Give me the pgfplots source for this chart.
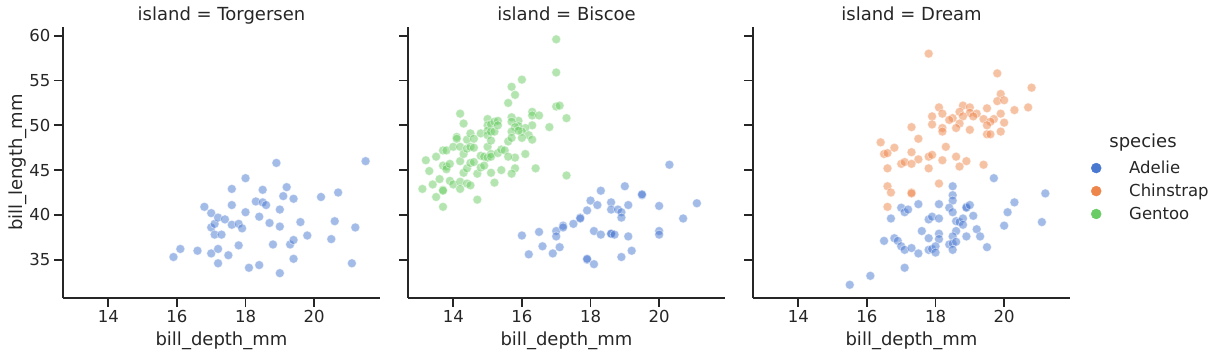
\documentclass[border=0pt]{standalone}
\usepackage{pgfplots}
\pgfplotsset{compat=1.18}
\usepackage{fontspec}
\setmainfont{DejaVu Sans}
\definecolor{cA}{HTML}{4878D0}
\definecolor{cC}{HTML}{EE854A}
\definecolor{cG}{HTML}{6ACC64}
\definecolor{tg}{HTML}{262626}
\pgfplotsset{
  facet/.style={
    scale only axis, width=317pt, height=271pt,
    xmin=12.68, xmax=21.92, ymin=30.725, ymax=60.975,
    axis lines=left, axis line style={-, line width=1.875pt, tg},
    tick align=outside, major tick length=9pt,
    tick style={line width=1.875pt, tg},
    xtick={14,16,18,20}, ytick={35,40,45,50,55,60},
    /pgf/number format/assume math mode=true,
    tick label style={font=\fontsize{16.5}{19.8}\selectfont, text=tg},
    xlabel={bill\_depth\_mm},
    label style={font=\fontsize{18}{21.6}\selectfont, text=tg},
    xlabel style={at={(axis description cs:0.5,0)}, anchor=base, yshift=-47pt},
    title style={at={(axis description cs:0.5,1)}, anchor=base, yshift=0pt, font=\fontsize{18}{21.6}\selectfont, text=tg},
    clip=false,
  },
  pts/.style={only marks, mark=*, mark size=4.5pt, forget plot,
    mark options={fill=#1, draw=white, line width=0.72pt, opacity=0.5}},
}
\begin{document}
\begin{tikzpicture}
\useasboundingbox (0pt,0pt) rectangle (1221pt,356pt);
% ---------------- Torgersen
\begin{axis}[facet, at={(63pt,58pt)}, anchor=south west,
  title={island = Torgersen},
  ylabel={bill\_length\_mm},
  ylabel style={at={(axis description cs:0,0.5)}, anchor=base, yshift=41pt}]
\addplot[pts=cA] table {
15.9 35.3
16.1 36.2
16.6 36.0
16.8 40.9
17.0 40.2
17.0 38.6
17.1 39.0
17.2 39.7
17.1 37.8
17.3 37.8
17.0 35.7
17.2 36.2
17.2 34.6
17.4 39.5
17.5 35.5
17.6 42.9
17.6 41.1
17.6 38.9
17.8 39.0
17.8 36.6
17.9 38.5
18.0 44.1
18.0 40.3
18.1 34.1
18.3 41.5
18.4 39.8
18.4 34.4
18.5 42.8
18.5 41.4
18.6 41.1
18.7 39.1
18.8 36.7
18.9 45.8
19.0 40.6
19.0 38.7
19.0 33.5
19.1 42.1
19.2 43.1
19.3 36.7
19.4 41.8
19.4 37.2
19.4 35.1
19.6 39.2
19.8 37.7
20.2 42.0
20.5 37.3
20.6 39.3
20.7 42.5
21.1 34.6
21.2 38.6
21.5 46.0
};
\end{axis}
% ---------------- Biscoe
\begin{axis}[facet, at={(408pt,58pt)}, anchor=south west,
  title={island = Biscoe}, yticklabels={}]
\addplot[pts=cA] table {
16.0 37.7
16.2 35.6
16.5 38.1
16.6 36.5
16.9 35.7
17.0 38.2
17.0 37.6
17.1 36.4
17.2 38.8
17.2 38.6
17.5 39.0
17.7 39.7
17.7 39.6
17.9 40.5
17.9 35.0
17.9 35.1
18.0 41.6
18.1 38.2
18.1 34.5
18.2 41.1
18.3 37.8
18.3 42.7
18.6 41.4
18.6 40.6
18.6 37.9
18.6 37.9
18.7 37.8
18.8 40.6
18.9 40.3
18.9 39.7
18.9 35.3
19.0 43.2
19.1 41.1
19.1 37.6
19.2 36.0
19.5 42.2
19.5 42.3
20.0 41.0
20.0 38.2
20.0 37.8
20.3 45.6
20.7 39.6
21.1 41.3
};
\addplot[pts=cG] table {
17.0 59.6
17.0 55.9
16.0 55.1
15.7 54.3
15.8 53.4
15.6 52.5
17.0 52.1
17.1 52.2
17.3 50.8
16.8 49.8
16.3 51.5
16.3 51.1
16.5 51.1
16.3 50.0
16.1 49.7
16.0 49.3
16.2 48.9
16.3 48.4
16.1 46.8
16.4 45.2
17.3 44.4
15.9 50.5
15.9 49.9
15.7 50.9
15.7 50.4
15.8 49.8
15.7 49.3
15.6 48.2
15.7 48.6
16.0 48.6
15.8 46.4
15.8 45.2
15.7 44.6
15.4 45.0
15.2 43.6
14.7 41.7
13.7 40.9
13.5 42.0
13.7 42.8
13.7 42.7
13.1 42.9
13.4 43.4
13.2 46.1
13.3 44.9
13.5 46.5
13.6 44.0
13.7 47.2
13.8 47.2
13.7 45.5
13.8 45.4
13.8 45.1
13.9 45.7
13.9 43.8
14.0 43.4
14.0 47.6
14.2 51.3
14.3 50.2
14.1 48.7
14.1 48.5
14.2 47.6
14.2 46.0
14.2 43.7
14.2 42.9
14.3 46.8
14.3 44.7
14.4 48.4
14.4 47.4
14.4 45.2
14.4 43.5
14.5 49.1
14.5 47.6
14.5 45.8
14.5 43.3
14.6 48.5
14.6 47.5
14.6 45.9
14.7 44.6
14.8 49.1
14.8 46.6
14.8 45.3
14.9 46.5
15.0 50.7
15.0 50.0
15.0 49.4
15.0 48.9
15.0 47.6
15.0 46.4
15.1 50.1
15.1 49.3
15.1 48.3
15.1 46.8
15.1 46.5
15.2 50.4
15.2 49.3
15.3 50.5
15.3 50.0
15.3 46.9
15.4 47.3
15.5 47.2
15.6 46.5
15.1 44.7
14.9 45.5
15.9 49.4
};
\end{axis}
% ---------------- Dream
\begin{axis}[facet, at={(753pt,58pt)}, anchor=south west,
  title={island = Dream}, yticklabels={},
  legend cell align=left,
  legend style={draw=none, fill=none, at={(axis description cs:1.0663,0.395)}, anchor=west,
    inner sep=0pt, font=\fontsize{16.5}{19.8}\selectfont, text=tg, row sep=5pt,
    /tikz/every odd column/.append style={column sep=26pt}}]
\addplot[pts=cA] table {
19.7 44.1
21.2 42.4
18.5 43.2
18.5 42.2
18.5 41.6
20.3 41.4
17.5 41.2
18.1 41.2
18.4 40.8
18.9 40.9
18.9 40.8
19.0 41.1
18.5 40.3
17.0 40.8
17.1 40.3
17.2 40.6
20.1 40.3
16.7 39.6
17.8 39.5
17.9 39.8
18.1 39.6
18.6 39.3
18.7 39.2
18.8 39.6
18.8 38.9
19.1 39.9
20.0 38.8
21.1 39.2
19.2 38.4
17.6 38.2
18.1 37.9
18.6 38.2
18.5 37.6
19.3 37.6
18.9 37.6
18.1 37.3
17.8 37.4
16.8 37.4
16.9 37.1
16.5 37.1
17.0 36.5
17.1 36.1
17.3 36.3
17.5 35.7
17.8 36.1
17.9 36.2
18.0 36.5
18.0 35.8
18.4 36.7
18.5 36.8
18.6 37.0
18.5 36.1
19.5 36.4
17.1 34.1
16.1 33.2
15.5 32.2
};
\addplot[pts=cC] table {
17.8 58.0
19.8 55.8
20.8 54.2
19.9 53.5
19.8 52.7
20.0 52.8
20.7 52.0
20.3 51.7
18.1 52.0
18.2 51.3
17.9 51.0
17.9 50.1
18.8 52.2
19.0 52.0
18.7 51.5
19.0 51.4
19.2 51.3
19.1 51.0
19.5 51.9
19.9 51.3
19.4 50.7
19.7 50.7
19.6 50.4
20.0 50.3
18.5 50.8
18.4 50.6
18.8 51.0
18.7 50.2
18.6 49.7
19.0 49.5
18.2 49.7
18.2 49.3
19.5 50.0
19.5 49.0
19.6 49.0
19.9 49.3
17.3 49.8
17.5 48.5
16.4 48.1
16.8 47.5
16.5 46.8
16.6 46.9
17.3 47.0
18.3 47.6
17.8 46.5
17.9 46.7
17.5 46.2
18.6 46.5
18.2 46.1
18.9 46.0
17.0 45.7
17.1 45.9
17.3 45.7
16.6 45.2
17.8 45.2
18.7 45.4
19.4 45.6
18.1 43.5
16.6 43.2
16.7 42.5
17.3 42.5
17.3 42.4
16.6 40.9
};
\addlegendimage{only marks, mark=*, mark size=5pt, cA}
\addlegendentry{Adelie}
\addlegendimage{only marks, mark=*, mark size=5pt, cC}
\addlegendentry{Chinstrap}
\addlegendimage{only marks, mark=*, mark size=5pt, cG}
\addlegendentry{Gentoo}
\end{axis}
\node[anchor=base, font=\fontsize{18}{21.6}\selectfont, text=tg] at (1143pt,208pt) {species};
\end{tikzpicture}
\end{document}
